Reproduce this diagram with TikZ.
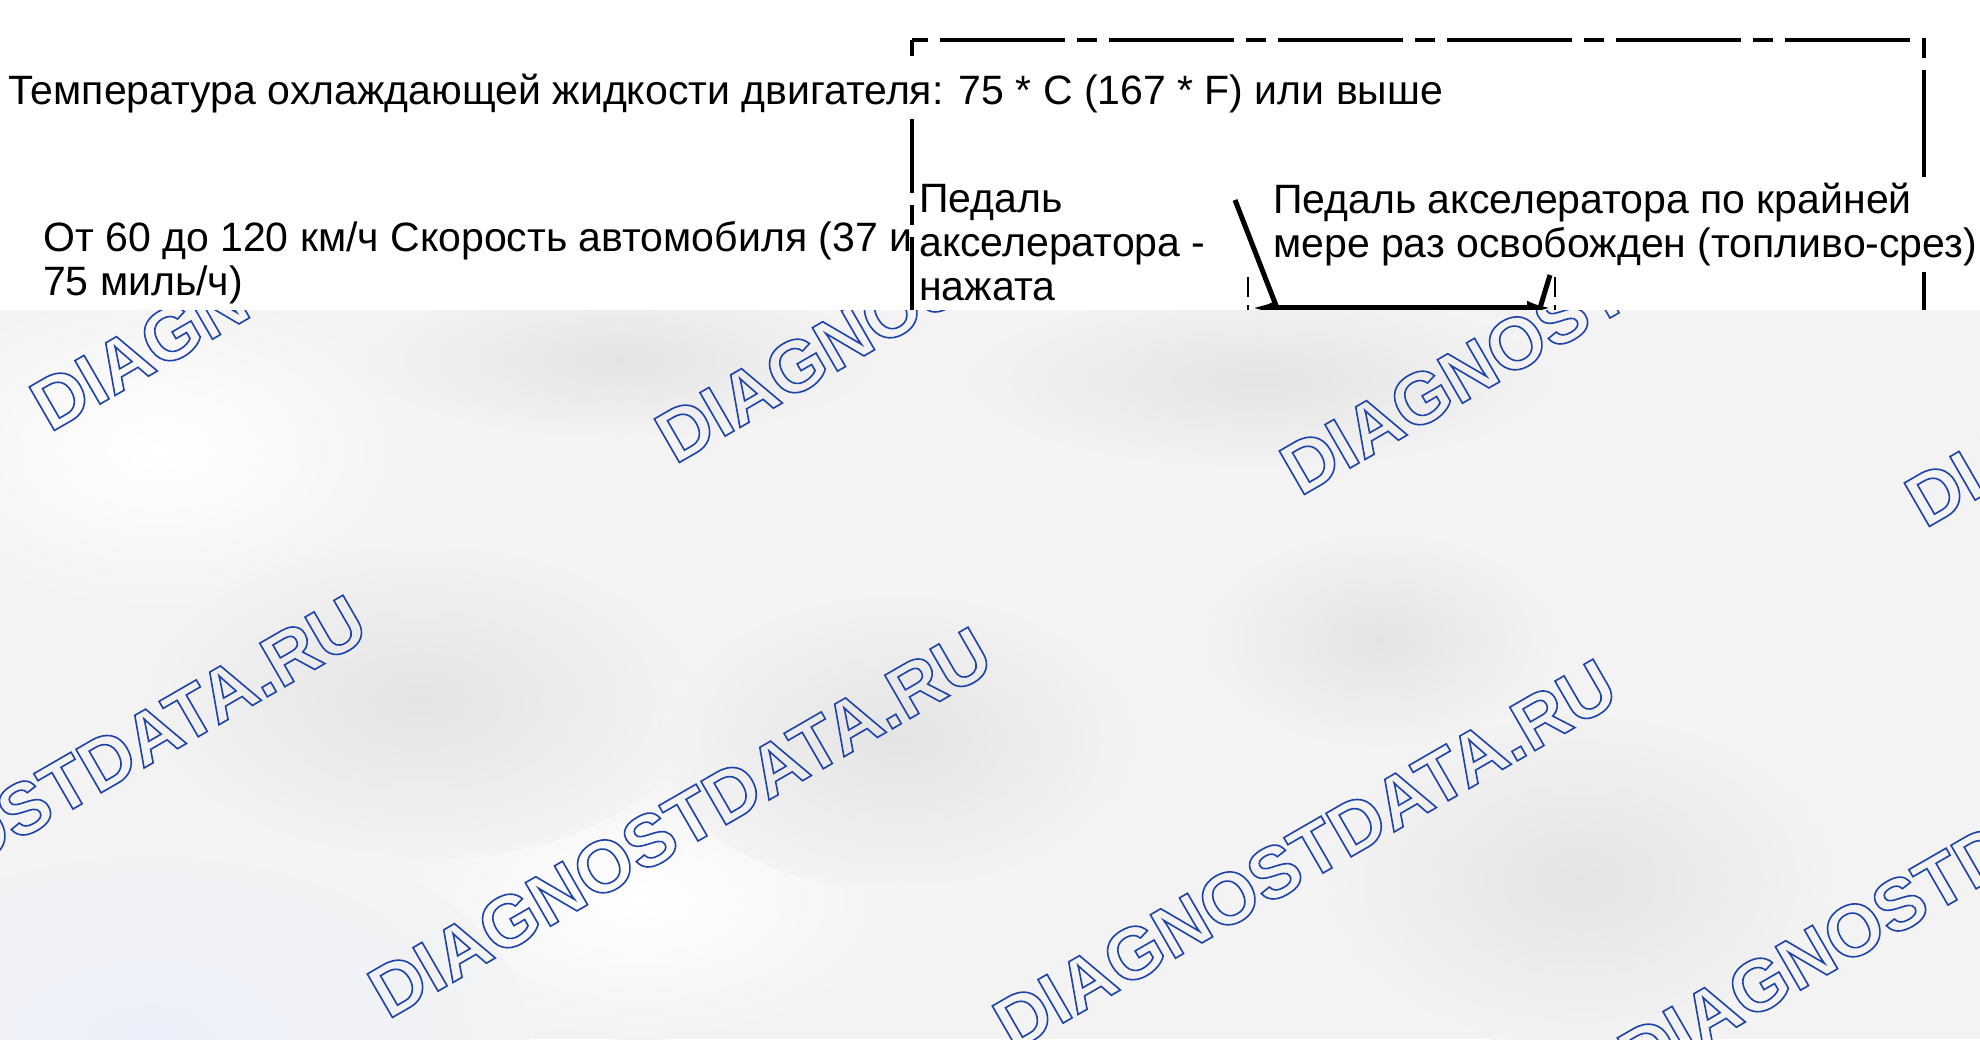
\documentclass[tikz,border=0pt]{standalone}
\usepackage{fontspec}
\setmainfont{Liberation Sans}
\usetikzlibrary{positioning,arrows.meta}
\definecolor{wmblue}{HTML}{1E42A8}
\definecolor{bggray}{HTML}{F3F3F3}
\definecolor{blobgray}{HTML}{E4E4E4}
\definecolor{bgblue}{HTML}{EDF0FA}
\newcommand{\outlined}[1]{\special{pdf:literal direct 1 Tr 1.6 w}#1\special{pdf:literal direct 0 Tr}}
\tikzset{
    x=1pt,
    y=-1pt,
    txt/.style = {
        font=\fontsize{41}{44}\selectfont,
        align=left,
        inner sep=0pt,
        anchor=base west
    },
    cover/.style = {
        fill=white,
        inner xsep=4pt,
        inner ysep=6pt
    },
    boxline/.style = {
        line width=4pt,
        dash pattern=on 20pt off 12pt on 125pt off 12pt,
        dash phase=4pt
    },
    tickline/.style = {
        line width=2.5pt,
        dash pattern=on 20pt off 8pt
    },
    leader/.style = {
        line width=5pt
    },
    dimline/.style = {
        line width=6pt,
        {Latex[length=28pt,width=14pt]}-{Latex[length=28pt,width=14pt]}
    },
    wmtext/.style = {
        font=\fontsize{73}{80}\selectfont\bfseries,
        text=wmblue,
        rotate=30,
        anchor=base west,
        inner sep=0pt
    },
    blob/.style = {
        inner color=blobgray,
        outer color=bggray
    },
}

\begin{document}
\begin{tikzpicture}
            \useasboundingbox (0,0) rectangle (1980,1039);
            \fill[white] (0,0) rectangle (1980,1039);

            % frame and timing marks
            \coordinate (boxTL) at (912,40);
            \coordinate (boxTR) at (1924,40);
            \coordinate (boxBL) at (912,340);
            \coordinate (boxBR) at (1924,340);
            \coordinate (tickL) at (1248,277);
            \coordinate (tickLend) at (1248,340);
            \coordinate (tickR) at (1555,277);
            \coordinate (tickRend) at (1555,340);
            \coordinate (spanL) at (1248,308);
            \coordinate (spanR) at (1555,308);
            \coordinate (lead1) at (1235,200);
            \coordinate (foot1) at (1277,308);
            \coordinate (lead2) at (1550,275);
            \coordinate (foot2) at (1540,308);

            \draw[boxline] (boxTL) -- (boxTR) -- (boxBR);
            \draw[boxline] (boxTL) -- (boxBL);
            \draw[tickline] (tickL) -- (tickLend);
            \draw[tickline] (tickR) -- (tickRend);
            \draw[leader] (lead1) -- (foot1);
            \draw[leader] (lead2) -- (foot2);
            \draw[dimline] (spanL) -- (spanR);

            % base anchor sits on the last line
            \node[txt, cover] (coolant) at (4,104) {Температура охлаждающей жидкости двигателя: 75 * C (167 * F) или выше};
            \node[txt] (speed) at (43,295) {От 60 до 120 км/ч Скорость автомобиля (37 и\\75 миль/ч)};
            \node[txt] (pressed) at (919,300) {Педаль\\акселератора -\\нажата};
            \node[txt, cover] (released) at (1269,257) {Педаль акселератора по крайней\\мере раз освобожден (топливо-срез)};

            % watermark area
            \begin{scope}
                \clip (0,310) rectangle (1980,1039);
                \fill[bggray] (0,310) rectangle (1980,1039);
                \shade[inner color=white, outer color=bggray] (160,450) ellipse (260 and 160);
                \shade[inner color=white, outer color=bggray] (640,900) ellipse (260 and 140);
                \shade[inner color=bgblue, outer color=bggray] (150,1039) ellipse (380 and 220);
                \shade[blob] (420,700) ellipse (280 and 160);
                \shade[blob] (900,740) ellipse (240 and 150);
                \shade[blob] (620,360) ellipse (260 and 80);
                \shade[blob] (1260,380) ellipse (300 and 90);
                \shade[blob] (1580,880) ellipse (260 and 170);
                \shade[blob] (1380,640) ellipse (180 and 110);

                \node[wmtext] (wmA1) at (50,433) {\outlined{DIAGNOSTDATA.RU}};
                \node[wmtext] (wmA2) at (675,465) {\outlined{DIAGNOSTDATA.RU}};
                \node[wmtext] (wmA3) at (1300,497) {\outlined{DIAGNOSTDATA.RU}};
                \node[wmtext] (wmA4) at (1925,529) {\outlined{DIAGNOSTDATA.RU}};
                \node[wmtext] (wmB1) at (-237,988) {\outlined{DIAGNOSTDATA.RU}};
                \node[wmtext] (wmB2) at (388,1020) {\outlined{DIAGNOSTDATA.RU}};
                \node[wmtext] (wmB3) at (1013,1052) {\outlined{DIAGNOSTDATA.RU}};
                \node[wmtext] (wmB4) at (1638,1084) {\outlined{DIAGNOSTDATA.RU}};
            \end{scope}
        \end{tikzpicture}
\end{document}
